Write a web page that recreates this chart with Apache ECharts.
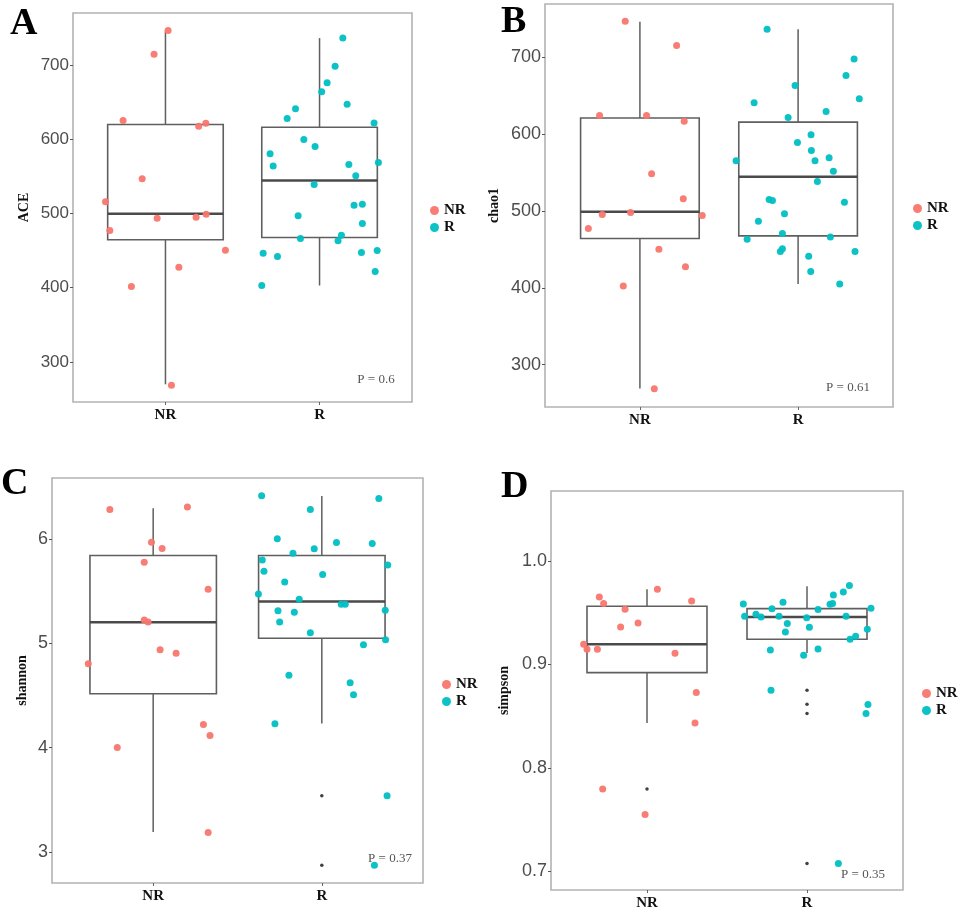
<!DOCTYPE html>
<html>
<head>
<meta charset="utf-8">
<script src="https://cdn.jsdelivr.net/npm/echarts@6/dist/echarts.min.js"></script>
<style>
html,body{margin:0;padding:0;background:#fff;}
#main{width:969px;height:912px;}
</style>
</head>
<body>
<div id="main"></div>
<script>
var groups = ['NR', 'R'];

// A - ACE
var aceNrX = [1.017,0.926,0.725,1.216,1.262,0.849,0.611,0.639,0.946,1.199,1.264,1.389,1.087,0.779,1.039];
var aceNrY = [746.2,714.4,625.1,617.5,621.5,546.6,515.6,477,493.6,495,499,450.6,427.7,401.7,268.9];
var aceRX = [2.151,2.101,2.049,2.014,2.179,1.844,1.79,2.354,1.898,1.971,1.679,1.699,2.19,2.382,2.235,1.965,2.224,2.278,1.861,2.278,1.876,2.142,2.12,1.634,1.727,2.272,2.374,2.361,1.625];
var aceRY = [736.3,698.2,675.8,663.7,647,640.8,627.8,621.9,599.5,590.1,580.2,564,565.9,568.6,550.6,538.9,511.1,512.5,496.8,486.5,466.3,470.8,463.1,446.5,442,447.4,450.1,421.9,403];
var aceBox = [[1,270,464.5,499.5,619.7,745],[2,403,467.6,544.3,616.1,736]];
var aceOut = [];
var aceTicks = [300,400,500,600,700];

// B - chao1
var chaoNrX = [0.907,1.232,0.745,1.042,1.28,1.074,1.274,0.762,0.941,1.394,0.674,1.12,1.288,0.895,1.091];
var chaoNrY = [746.9,715.6,624.4,624.4,617,548.4,515.8,495.4,498,494.1,477.2,450.3,427.3,402.5,268.7];
var chaoRX = [1.804,2.354,2.303,1.981,2.387,1.722,2.177,1.937,2.082,1.996,2.084,1.608,2.107,2.196,2.223,2.122,1.817,1.838,2.293,1.914,1.749,1.901,1.678,2.204,1.888,1.901,2.36,2.067,2.08,2.263];
var chaoRY = [736.5,697.8,676.5,663.5,646.1,640.9,629.6,621.8,599.2,589.3,578.8,565.4,565.4,569.3,551.9,538.4,515,513.7,511.5,496.3,486.8,470.7,463.3,466.3,447.2,450.7,447.2,441.2,421.2,405.1];
var chaoBox = [[1,269,464.2,499,621,746.5],[2,405,467.6,544.5,615.7,736.5]];
var chaoOut = [];
var chaoTicks = [300,400,500,600,700];

// C - shannon
var shanNrX = [0.743,1.203,0.99,1.053,0.947,1.326,0.947,0.97,1.041,1.136,0.615,1.298,1.337,0.787,1.326];
var shanNrY = [6.282,6.304,5.968,5.907,5.776,5.517,5.223,5.203,4.938,4.903,4.804,4.221,4.116,4.0,3.185];
var shanRX = [1.643,2.338,1.932,1.736,2.087,2.299,1.955,1.829,1.647,2.391,1.657,2.005,1.78,1.624,1.866,2.115,2.139,1.74,1.837,2.376,1.75,1.932,2.378,2.247,1.805,2.168,2.188,1.722,2.387,2.312];
var shanRY = [6.413,6.387,6.282,6.0,5.965,5.955,5.904,5.862,5.798,5.75,5.69,5.658,5.587,5.472,5.421,5.373,5.373,5.312,5.296,5.315,5.203,5.101,5.034,4.986,4.692,4.621,4.506,4.228,3.537,2.871];
var shanBox = [[1,3.19,4.516,5.2,5.84,6.294],[2,4.23,5.047,5.399,5.84,6.41]];
var shanOut = [[2,3.537],[2,2.871]];
var shanTicks = [3,4,5,6];

// D - simpson
var simpNrX = [0.702,0.729,0.863,1.065,1.279,0.835,0.944,0.604,0.625,0.69,1.175,1.308,1.3,0.723,0.988];
var simpNrY = [0.9652,0.9588,0.9533,0.9726,0.9614,0.9362,0.9401,0.9195,0.9147,0.9147,0.9108,0.8728,0.8435,0.7797,0.7549];
var simpRX = [1.602,1.61,1.681,1.713,1.781,1.85,1.825,1.877,1.865,1.998,2.015,2.069,2.144,2.16,2.165,2.227,2.265,2.244,2.4,2.377,2.269,2.304,1.771,1.979,2.069,1.775,2.381,2.369,2.196];
var simpRY = [0.9585,0.9465,0.9485,0.9459,0.9539,0.96,0.9465,0.9395,0.9314,0.9452,0.9359,0.953,0.9581,0.9588,0.9671,0.97,0.9762,0.9465,0.9543,0.934,0.9243,0.9272,0.914,0.9089,0.915,0.875,0.8612,0.8525,0.7076];
var simpBox = [[1,0.8435,0.8921,0.9195,0.9562,0.9726],[2,0.9111,0.9243,0.9459,0.9539,0.9755]];
var simpOut = [[1,0.7797],[2,0.875],[2,0.8615],[2,0.8525],[2,0.7076]];
var simpTicks = [0.7,0.8,0.9,1.0];

function zip(xs, ys){
	var out = [];
	for (var i = 0; i < xs.length; i++) out.push([xs[i], ys[i]]);
	return out;
}

var panels = [
	{letter:'A', name:'ACE', p:'P = 0.6', nr:zip(aceNrX,aceNrY), r:zip(aceRX,aceRY), box:aceBox, out:aceOut, ticks:aceTicks, dec:0,
	 yMin:246.2, yMax:769.8, grid:{left:73, top:13, width:339, height:389}, nameGap:42, fs:17,
	 letterAt:[10,5], pAt:[376,380], legendAt:[430,203]},
	{letter:'B', name:'chao1', p:'P = 0.61', nr:zip(chaoNrX,chaoNrY), r:zip(chaoRX,chaoRY), box:chaoBox, out:chaoOut, ticks:chaoTicks, dec:0,
	 yMin:244.8, yMax:769.5, grid:{left:545, top:4, width:348, height:403}, nameGap:44, fs:18,
	 letterAt:[501,3], pAt:[848,388], legendAt:[913,201]},
	{letter:'C', name:'shannon', p:'P = 0.37', nr:zip(shanNrX,shanNrY), r:zip(shanRX,shanRY), box:shanBox, out:shanOut, ticks:shanTicks, dec:0,
	 yMin:2.702, yMax:6.583, grid:{left:52, top:478, width:371, height:405}, nameGap:23, fs:18,
	 letterAt:[1,465], pAt:[390,859], legendAt:[442,677]},
	{letter:'D', name:'simpson', p:'P = 0.35', nr:zip(simpNrX,simpNrY), r:zip(simpRX,simpRY), box:simpBox, out:simpOut, ticks:simpTicks, dec:1,
	 yMin:0.682, yMax:1.0676, grid:{left:551, top:491, width:352, height:399}, nameGap:40, fs:18,
	 letterAt:[501,468], pAt:[863,875], legendAt:[922,686]}
];

var serif = '"Liberation Serif", "Times New Roman", serif';
var sans = '"Liberation Sans", Arial, sans-serif';

function renderBox(params, api){
	var x = api.value(0);
	var hw = 0.375;
	var q1L = api.coord([x - hw, api.value(2)]);
	var q3R = api.coord([x + hw, api.value(4)]);
	var mL = api.coord([x - hw, api.value(3)]);
	var mR = api.coord([x + hw, api.value(3)]);
	var top = api.coord([x, api.value(5)]);
	var q3c = api.coord([x, api.value(4)]);
	var q1c = api.coord([x, api.value(2)]);
	var bot = api.coord([x, api.value(1)]);
	var st = {stroke:'#5f5f5f', lineWidth:1.5, fill:null};
	return {type:'group', children:[
		{type:'line', shape:{x1:top[0], y1:top[1], x2:q3c[0], y2:q3c[1]}, style:st},
		{type:'line', shape:{x1:q1c[0], y1:q1c[1], x2:bot[0], y2:bot[1]}, style:st},
		{type:'rect', shape:{x:q1L[0], y:q3R[1], width:q3R[0]-q1L[0], height:q1L[1]-q3R[1]}, style:{stroke:'#5f5f5f', lineWidth:1.6, fill:'rgba(255,255,255,0)'}},
		{type:'line', shape:{x1:mL[0], y1:mL[1], x2:mR[0], y2:mR[1]}, style:{stroke:'#4a4a4a', lineWidth:2.6}}
	]};
}

var option = {
	backgroundColor:'#fff',
	animation:false,
	grid:[], xAxis:[], yAxis:[], series:[], legend:[], graphic:[]
};

panels.forEach(function(p, i){
	var g = p.grid;
	option.grid.push({left:g.left, top:g.top, width:g.width, height:g.height, show:true, borderColor:'#b2b2b2', borderWidth:1.6, backgroundColor:'#fff'});
	option.xAxis.push({
		type:'value', gridIndex:i, min:0.4, max:2.6,
		axisLine:{show:false}, splitLine:{show:false},
		axisTick:{show:true, customValues:[1,2], length:3, lineStyle:{color:'#666'}},
		axisLabel:{customValues:[1,2], margin:6, color:'#111', fontFamily:serif, fontWeight:'bold', fontSize:15,
			formatter:function(v){ return groups[Math.round(v) - 1]; }}
	});
	option.yAxis.push({
		type:'value', gridIndex:i, min:p.yMin, max:p.yMax,
		name:p.name, nameLocation:'middle', nameGap:p.nameGap, nameRotate:90,
		nameTextStyle:{fontFamily:serif, fontWeight:'bold', fontSize:14, color:'#111'},
		axisLine:{show:false}, splitLine:{show:false},
		axisTick:{show:true, customValues:p.ticks, length:3, lineStyle:{color:'#555'}},
		axisLabel:{customValues:p.ticks, margin:4, color:'#4d4d4d', fontFamily:sans, fontSize:p.fs,
			formatter:function(v){ return v.toFixed(p.dec); }}
	});
	option.series.push({
		type:'custom', name:'box' + i, xAxisIndex:i, yAxisIndex:i,
		renderItem:renderBox, data:p.box, encode:{x:0, y:[1,2,3,4,5]}, silent:true
	});
	if (p.out.length) {
		option.series.push({
			type:'scatter', name:'outlier' + i, xAxisIndex:i, yAxisIndex:i,
			data:p.out, symbolSize:3.5, itemStyle:{color:'#111'}, silent:true
		});
	}
	option.series.push({
		type:'scatter', name:'NR', xAxisIndex:i, yAxisIndex:i,
		data:p.nr, symbolSize:7, itemStyle:{color:'#F8766D', opacity:0.95}
	});
	option.series.push({
		type:'scatter', name:'R', xAxisIndex:i, yAxisIndex:i,
		data:p.r, symbolSize:7, itemStyle:{color:'#00BFC4', opacity:0.95}
	});
	option.legend.push({
		data:groups, orient:'vertical', left:p.legendAt[0], top:p.legendAt[1],
		icon:'circle', itemWidth:9, itemHeight:9, itemGap:2, padding:0,
		textStyle:{fontFamily:serif, fontWeight:'bold', fontSize:15, lineHeight:14, color:'#111'}
	});
	option.graphic.push({
		type:'text', left:p.letterAt[0], top:p.letterAt[1],
		style:{text:p.letter, font:'bold 38px ' + serif, fill:'#000'}
	});
	option.graphic.push({
		type:'text', x:p.pAt[0], y:p.pAt[1],
		style:{text:p.p, font:'13px ' + serif, fill:'#555', align:'center', verticalAlign:'middle'}
	});
});

var myChart = echarts.init(document.getElementById('main'));
myChart.setOption(option);
</script>
</body>
</html>
